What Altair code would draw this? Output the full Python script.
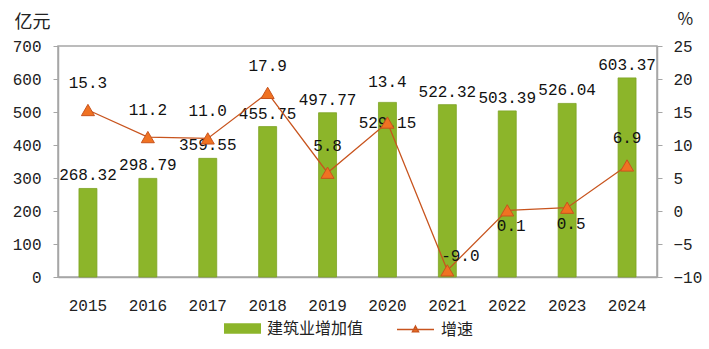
import altair as alt
import pandas as pd

years = ["2015", "2016", "2017", "2018", "2019", "2020", "2021", "2022", "2023", "2024"]
values = [268.32, 298.79, 359.55, 455.75, 497.77, 529.15, 522.32, 503.39, 526.04, 603.37]
growth = [15.3, 11.2, 11.0, 17.9, 5.8, 13.4, -9.0, 0.1, 0.5, 6.9]
bar_name = "建筑业增加值"
line_name = "增速"

df = pd.DataFrame({
    "year": years,
    "value": values,
    "growth": growth,
    "bar_s": [bar_name] * len(years),
    "line_s": [line_name] * len(years),
    "value_lbl": [f"{v:.2f}" for v in values],
    "growth_lbl": [f"{g:.1f}" for g in growth],
})

MONO = "Liberation Mono"
CJK = "Noto Sans CJK SC"
GREEN = "#8cb52a"
LINE = "#c8541e"
ORANGE = "#f07222"
GRAY = "#a6a6a6"

x = alt.X("year:O", scale=alt.Scale(paddingInner=0, paddingOuter=0),
          axis=alt.Axis(title=None, labelAngle=0, ticks=False, labelPadding=20,
                        labelFont=MONO, labelFontSize=16, labelColor="#222",
                        domainColor=GRAY, domainWidth=1.5))

left_axis = alt.Axis(title="亿元", titleAngle=0, titleX=-44, titleY=-24, titleAlign="left",
                     titleBaseline="middle", titleFont=CJK, titleFontSize=18, titleFontWeight="normal",
                     titleColor="#222", values=list(range(0, 701, 100)), grid=False,
                     labelFont=MONO, labelFontSize=16, labelColor="#222", labelPadding=12,
                     tickSize=5, tickColor=GRAY, domainColor=GRAY, domainWidth=1.5)
right_axis = alt.Axis(orient="right", title="%", titleAngle=0, titleX=20, titleY=-27,
                      titleAlign="left", titleBaseline="middle", titleFont=CJK, titleFontSize=17,
                      titleFontWeight="normal", titleColor="#222",
                      values=list(range(-10, 26, 5)), grid=False,
                      labelFont=MONO, labelFontSize=16, labelColor="#222", labelPadding=11,
                      tickSize=5, tickColor=GRAY, domainColor=GRAY, domainWidth=1.5)

yl = alt.Y("value:Q", scale=alt.Scale(domain=[0, 700], nice=False), axis=left_axis)
yr = alt.Y("growth:Q", scale=alt.Scale(domain=[-10, 25], nice=False), axis=right_axis)

base = alt.Chart(df)

bars = base.mark_bar(width=alt.RelativeBandSize(0.3), stroke="#7da324", strokeWidth=0.8).encode(
    x=x, y=yl,
    fill=alt.Fill("bar_s:N", scale=alt.Scale(domain=[bar_name], range=[GREEN]),
                  legend=alt.Legend(title=None, orient="none", legendX=166, legendY=264,
                                    symbolType="M-1,-0.28H1V0.28H-1Z", symbolSize=1369,
                                    symbolStrokeWidth=0, labelFont=CJK, labelFontSize=16,
                                    labelColor="#222", labelOffset=6)),
)
bar_text = base.transform_filter("datum.year != '2020'").mark_text(
    font=MONO, fontSize=16, baseline="bottom", dy=-5, color="#111").encode(
    x=x, y=yl, text="value_lbl:N")
bar_text_in = base.transform_filter("datum.year == '2020'").mark_text(
    font=MONO, fontSize=16, baseline="middle", dy=21, color="#111").encode(
    x=x, y=yl, text="value_lbl:N")

line = base.mark_line(strokeWidth=1.3).encode(
    x=x, y=yr,
    stroke=alt.Stroke("line_s:N", scale=alt.Scale(domain=[line_name], range=[LINE]),
                      legend=alt.Legend(title=None, orient="none", legendX=338, legendY=264,
                                        symbolType="M-1,0H1M0,-0.19L0.17,0.13H-0.17Z",
                                        symbolSize=1369, symbolFillColor=ORANGE,
                                        symbolStrokeWidth=1.3, labelFont=CJK, labelFontSize=16,
                                        labelColor="#222", labelOffset=6)),
)
points = base.mark_point(shape="triangle-up", filled=True, size=170, color=ORANGE,
                         stroke=LINE, strokeWidth=1, opacity=1).encode(x=x, y=yr)

above = "indexof(['2020','2021','2022','2023'], datum.year) < 0"
lt_above = base.transform_filter(above).mark_text(
    font=MONO, fontSize=16, baseline="middle", dy=-27, color="#111").encode(
    x=x, y=yr, text="growth_lbl:N")
lt_2020 = base.transform_filter("datum.year == '2020'").mark_text(
    font=MONO, fontSize=16, baseline="middle", dy=-41, color="#111").encode(
    x=x, y=yr, text="growth_lbl:N")
lt_2021 = base.transform_filter("datum.year == '2021'").mark_text(
    font=MONO, fontSize=16, baseline="middle", dy=-14, dx=13, color="#111").encode(
    x=x, y=yr, text="growth_lbl:N")
lt_below = base.transform_filter("datum.year == '2022' || datum.year == '2023'").mark_text(
    font=MONO, fontSize=16, baseline="middle", dy=16, dx=4, color="#111").encode(
    x=x, y=yr, text="growth_lbl:N")

left = alt.layer(bars, bar_text, bar_text_in)
right = alt.layer(line, points, lt_above, lt_2020, lt_2021, lt_below)

chart = alt.layer(left, right).resolve_scale(y="independent").properties(
    width=599, height=231,
    autosize=alt.AutoSizeParams(type="none"),
    padding={"left": 58, "top": 46, "right": 52, "bottom": 72},
    background="white",
).configure_view(stroke=GRAY, strokeWidth=1.5)

chart.save("out.html", embed_options={"renderer": "svg", "actions": False})
